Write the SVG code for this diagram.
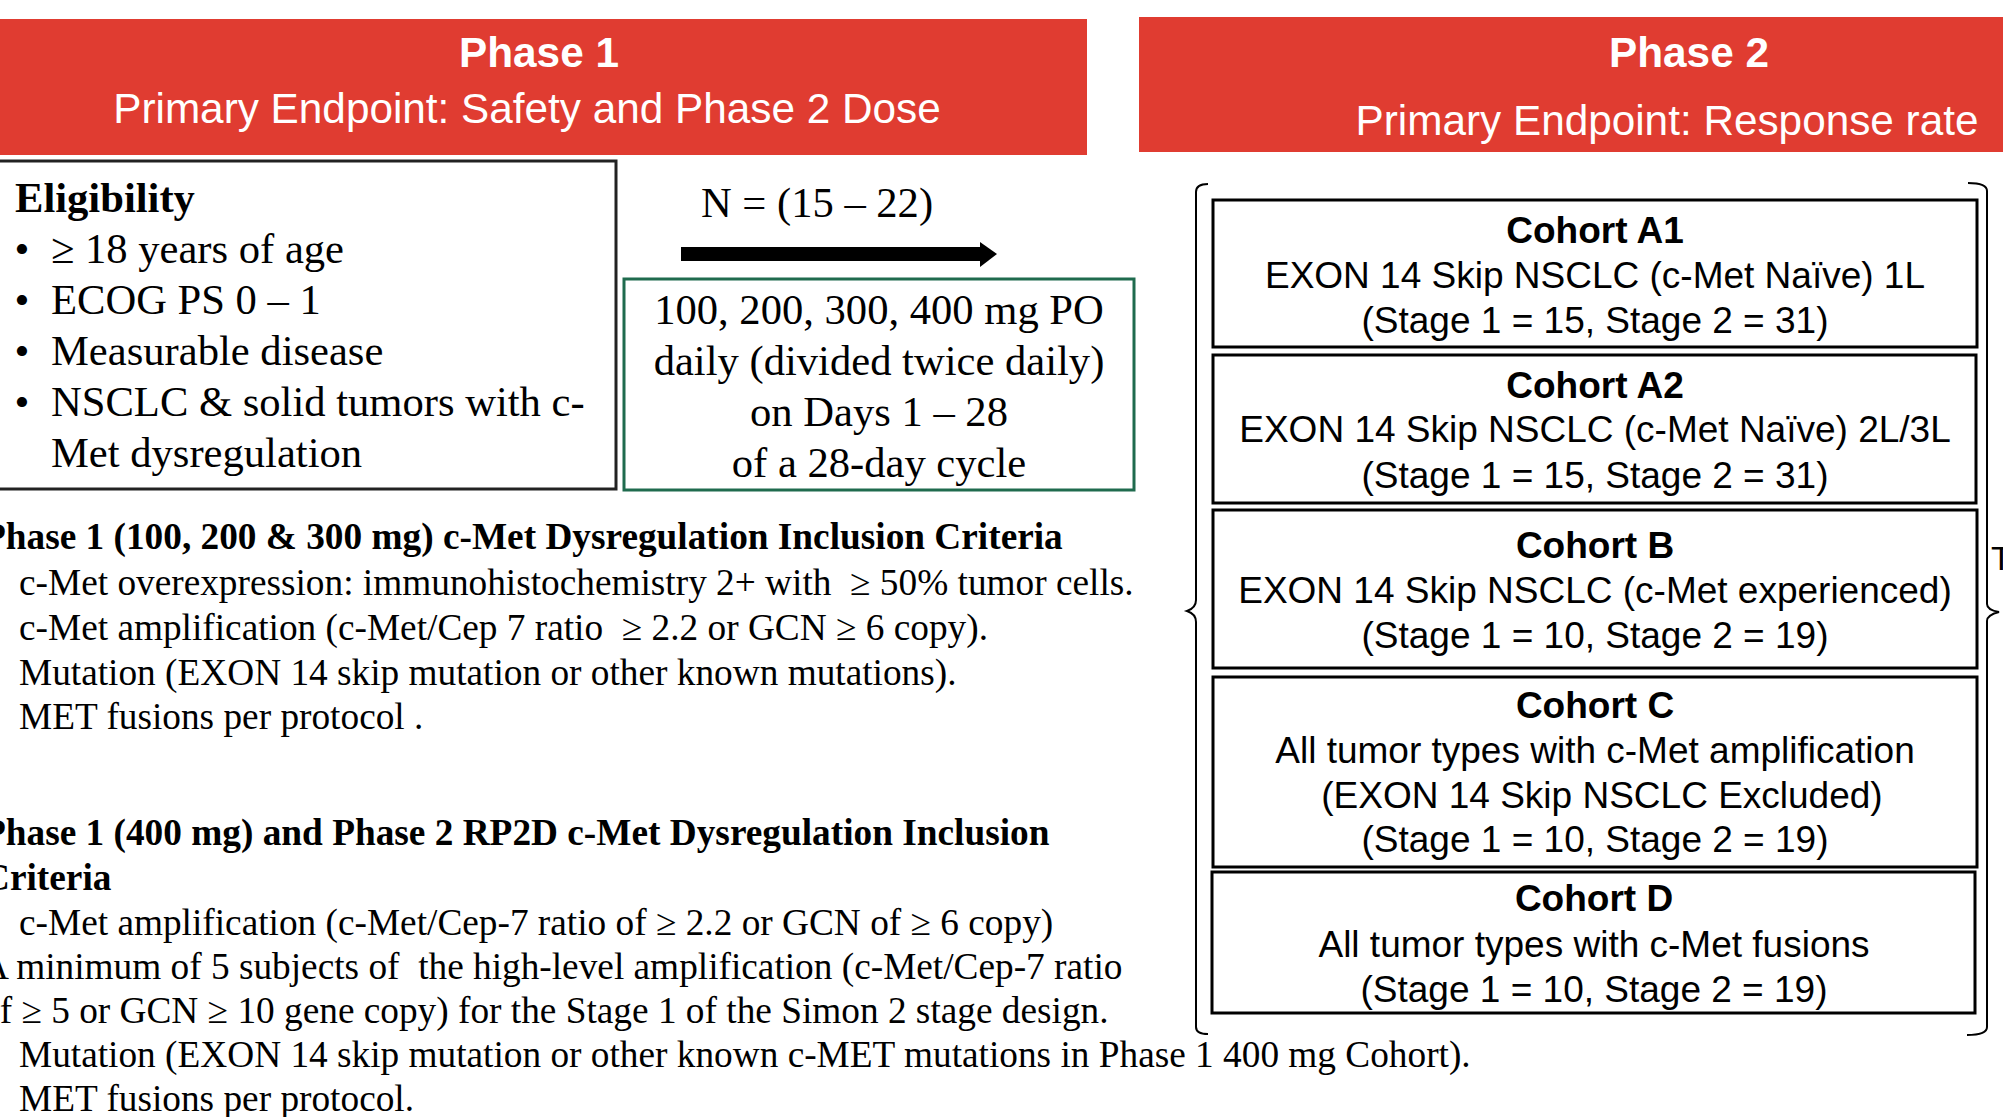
<svg xmlns="http://www.w3.org/2000/svg" width="2003" height="1117" viewBox="0 0 2003 1117">
  <style>
    .banner { fill: #E03C31; }
    .hdr { font-family: "Liberation Sans", Arial, sans-serif; fill: #ffffff; font-size: 42.3px; }
    .hdrb { font-weight: bold; }
    .ser { font-family: "Liberation Serif", "Times New Roman", serif; fill: #000000; white-space: pre; }
    .s42 { font-size: 42.6px; }
    .s37 { font-size: 37.3px; }
    .b { font-weight: bold; }
    .coh { fill: #ffffff; stroke: #000000; stroke-width: 3; }
    .ct { font-family: "Liberation Sans", Arial, sans-serif; font-size: 37px; fill: #000000; text-anchor: middle; }
    .brace { fill: none; stroke: #000000; stroke-width: 2; }
  </style>

  <g id="phase1-header">
    <rect class="banner" x="0" y="19" width="1087" height="136"/>
    <text class="hdr hdrb" x="539" y="67" text-anchor="middle">Phase 1</text>
    <text class="hdr" x="527" y="123" text-anchor="middle">Primary Endpoint: Safety and Phase 2 Dose</text>
  </g>

  <g id="phase2-header">
    <rect class="banner" x="1139" y="17" width="864" height="135"/>
    <text class="hdr hdrb" x="1689" y="67" text-anchor="middle">Phase 2</text>
    <text class="hdr" x="1667" y="135" text-anchor="middle">Primary Endpoint: Response rate</text>
  </g>

  <g id="eligibility">
    <rect x="-3" y="161" width="619" height="328" fill="#ffffff" stroke="#222222" stroke-width="3"/>
    <text class="ser s42 b" x="15" y="212">Eligibility</text>
    <g class="ser s42">
      <text x="22" y="263" text-anchor="middle">•</text>
      <text x="51" y="263">≥ 18 years of age</text>
      <text x="22" y="314" text-anchor="middle">•</text>
      <text x="51" y="314">ECOG PS 0 – 1</text>
      <text x="22" y="365" text-anchor="middle">•</text>
      <text x="51" y="365">Measurable disease</text>
      <text x="22" y="416" text-anchor="middle">•</text>
      <text x="51" y="416">NSCLC &amp; solid tumors with c-</text>
      <text x="51" y="467">Met dysregulation</text>
    </g>
  </g>

  <g id="enrollment-label">
    <text class="ser s42" x="817" y="217" text-anchor="middle">N = (15 – 22)</text>
  </g>

  <g id="connectors">
    <rect x="681" y="247" width="301" height="14" fill="#000000"/>
    <polygon points="980,242 997,254 980,267" fill="#000000"/>
  </g>

  <g id="dose">
    <rect x="624" y="279" width="510" height="211" fill="#ffffff" stroke="#1F6B4E" stroke-width="3"/>
    <g class="ser s42" text-anchor="middle">
      <text x="879" y="324">100, 200, 300, 400 mg PO</text>
      <text x="879" y="375">daily (divided twice daily)</text>
      <text x="879" y="426">on Days 1 – 28</text>
      <text x="879" y="477">of a 28-day cycle</text>
    </g>
  </g>

  <g id="criteria-phase1">
    <text class="ser s37 b" x="-17" y="549">Phase 1 (100, 200 &amp; 300 mg) c-Met Dysregulation Inclusion Criteria</text>
    <text class="ser s37" x="19" y="595">c-Met overexpression: immunohistochemistry 2+ with  ≥ 50% tumor cells.</text>
    <text class="ser s37" x="19" y="640">c-Met amplification (c-Met/Cep 7 ratio  ≥ 2.2 or GCN ≥ 6 copy).</text>
    <text class="ser s37" x="19" y="685">Mutation (EXON 14 skip mutation or other known mutations).</text>
    <text class="ser s37" x="19" y="729">MET fusions per protocol .</text>
  </g>

  <g id="criteria-rp2d">
    <text class="ser s37 b" x="-17" y="845">Phase 1 (400 mg) and Phase 2 RP2D c-Met Dysregulation Inclusion</text>
    <text class="ser s37 b" x="-17" y="890">Criteria</text>
    <text class="ser s37" x="19" y="935">c-Met amplification (c-Met/Cep-7 ratio of ≥ 2.2 or GCN of ≥ 6 copy)</text>
    <text class="ser s37" x="-18" y="979">A minimum of 5 subjects of  the high-level amplification (c-Met/Cep-7 ratio</text>
    <text class="ser s37" x="-19" y="1023">of ≥ 5 or GCN ≥ 10 gene copy) for the Stage 1 of the Simon 2 stage design.</text>
    <text class="ser s37" x="19" y="1067">Mutation (EXON 14 skip mutation or other known c-MET mutations in Phase 1 400 mg Cohort).</text>
    <text class="ser s37" x="19" y="1111">MET fusions per protocol.</text>
  </g>

  <g id="braces">
    <path class="brace" d="M1208,184 Q1196,184 1196,192 L1196,600 Q1196,608 1187,611 Q1196,614 1196,622 L1196,1027 Q1196,1034 1208,1034"/>
    <path class="brace" d="M1968,183 Q1987,183 1987,191 L1987,604 Q1987,610 1999,612 Q1987,615 1987,621 L1987,1027 Q1987,1035 1967,1035"/>
  </g>

  <g id="cohort-a1">
    <rect class="coh" x="1213" y="200" width="764" height="147"/>
    <text class="ct" x="1595" y="243" font-weight="bold">Cohort A1</text>
    <text class="ct" x="1595" y="288">EXON 14 Skip NSCLC (c-Met Naïve) 1L</text>
    <text class="ct" x="1595" y="333">(Stage 1 = 15, Stage 2 = 31)</text>
  </g>

  <g id="cohort-a2">
    <rect class="coh" x="1213" y="355" width="763" height="148"/>
    <text class="ct" x="1595" y="398" font-weight="bold">Cohort A2</text>
    <text class="ct" x="1595" y="442">EXON 14 Skip NSCLC (c-Met Naïve) 2L/3L</text>
    <text class="ct" x="1595" y="488">(Stage 1 = 15, Stage 2 = 31)</text>
  </g>

  <g id="cohort-b">
    <rect class="coh" x="1213" y="510" width="764" height="158"/>
    <text class="ct" x="1595" y="558" font-weight="bold">Cohort B</text>
    <text class="ct" x="1595" y="603">EXON 14 Skip NSCLC (c-Met experienced)</text>
    <text class="ct" x="1595" y="648">(Stage 1 = 10, Stage 2 = 19)</text>
  </g>

  <g id="cohort-c">
    <rect class="coh" x="1213" y="677" width="764" height="190"/>
    <text class="ct" x="1595" y="718" font-weight="bold">Cohort C</text>
    <text class="ct" x="1595" y="763">All tumor types with c-Met amplification</text>
    <text class="ct" x="1602" y="808">(EXON 14 Skip NSCLC Excluded)</text>
    <text class="ct" x="1595" y="852">(Stage 1 = 10, Stage 2 = 19)</text>
  </g>

  <g id="cohort-d">
    <rect class="coh" x="1212" y="872" width="763" height="141"/>
    <text class="ct" x="1594" y="911" font-weight="bold">Cohort D</text>
    <text class="ct" x="1594" y="957">All tumor types with c-Met fusions</text>
    <text class="ct" x="1594" y="1002">(Stage 1 = 10, Stage 2 = 19)</text>
  </g>

  <g id="edge-fragment">
    <text x="1991" y="570" font-family="Liberation Sans, Arial, sans-serif" font-size="34" fill="#000000">T</text>
  </g>
</svg>
